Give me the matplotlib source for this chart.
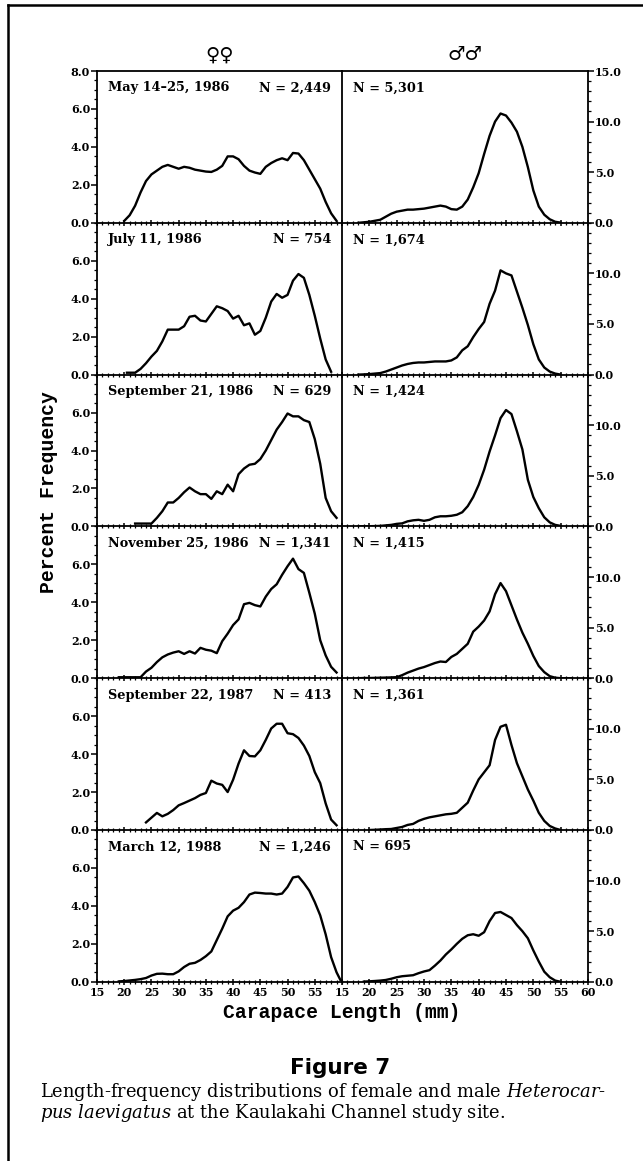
#length-frequency panels, females left and males right, six sampling dates

import matplotlib
matplotlib.use("Agg")
import matplotlib.pyplot as plt
from matplotlib.ticker import MultipleLocator, FixedLocator, FormatStrFormatter
from matplotlib.lines import Line2D

plt.rcParams['font.family'] = 'DejaVu Serif'
plt.rcParams['font.weight'] = 'bold'
plt.rcParams['mathtext.fontset'] = 'custom'
plt.rcParams['mathtext.rm'] = 'DejaVu Serif:normal'
plt.rcParams['mathtext.it'] = 'DejaVu Serif:italic:normal'

#sampling dates and sample sizes
dates = ["May 14\u201325, 1986", "July 11, 1986", "September 21, 1986",
         "November 25, 1986", "September 22, 1987", "March 12, 1988"]
n_female = ["2,449", "754", "629", "1,341", "413", "1,246"]
n_male = ["5,301", "1,674", "1,424", "1,415", "1,361", "695"]

#female curves (carapace length mm, percent frequency)
f1_mm = [20,21,22,23,24,25,26,27,28,29,30,31,32,33,34,35,36,37,38,39,40,41,42,43,44,45,46,47,48,49,50,51,52,53,54,55,56,57,58,59]
f1_pct = [0.1,0.4,0.9,1.6,2.2,2.55,2.75,2.95,3.05,2.95,2.85,2.95,2.9,2.8,2.75,2.7,2.68,2.8,3.0,3.5,3.5,3.35,3.0,2.75,2.65,2.58,2.95,3.15,3.3,3.4,3.3,3.68,3.65,3.3,2.8,2.3,1.8,1.1,0.5,0.1]
f2_mm = [20.5,21,22,23,24,25,26,27,28,29,30,31,32,33,34,35,36,37,38,39,40,41,42,43,44,45,46,47,48,49,50,51,52,53,54,55,56,57,58]
f2_pct = [0.1,0.1,0.1,0.3,0.6,0.95,1.25,1.75,2.37,2.37,2.37,2.55,3.05,3.1,2.85,2.8,3.2,3.6,3.5,3.35,2.95,3.1,2.6,2.7,2.1,2.3,3.0,3.85,4.25,4.05,4.2,4.95,5.3,5.1,4.2,3.1,1.9,0.8,0.15]
f3_mm = [22,23,24,25,26,27,28,29,30,31,32,33,34,35,36,37,38,39,40,41,42,43,44,45,46,47,48,49,50,51,52,53,54,55,56,57,58,59]
f3_pct = [0.15,0.15,0.15,0.15,0.45,0.8,1.26,1.26,1.5,1.8,2.05,1.85,1.7,1.7,1.45,1.85,1.7,2.2,1.85,2.75,3.05,3.25,3.3,3.55,4.0,4.55,5.1,5.5,5.95,5.8,5.8,5.6,5.5,4.6,3.3,1.5,0.8,0.45]
f4_mm = [19,20,21,22,23,24,25,26,27,28,29,30,31,32,33,34,35,36,37,38,39,40,41,42,43,44,45,46,47,48,49,50,51,52,53,54,55,56,57,58,59]
f4_pct = [0.05,0.05,0.05,0.05,0.05,0.35,0.55,0.85,1.1,1.25,1.35,1.42,1.28,1.42,1.3,1.6,1.5,1.45,1.32,1.95,2.35,2.8,3.1,3.9,3.97,3.85,3.78,4.3,4.7,4.95,5.45,5.9,6.3,5.75,5.55,4.5,3.4,2.0,1.2,0.6,0.3]
f5_mm = [24,25,26,27,28,29,30,31,32,33,34,35,36,37,38,39,40,41,42,43,44,45,46,47,48,49,50,51,52,53,54,55,56,57,58,59]
f5_pct = [0.4,0.65,0.9,0.72,0.85,1.05,1.3,1.42,1.55,1.68,1.85,1.95,2.6,2.45,2.38,2.0,2.65,3.5,4.2,3.9,3.88,4.2,4.75,5.35,5.6,5.6,5.1,5.05,4.85,4.45,3.9,3.05,2.47,1.4,0.55,0.25]
f6_mm = [19,20,21,22,23,24,25,26,27,28,29,30,31,32,33,34,35,36,37,38,39,40,41,42,43,44,45,46,47,48,49,50,51,52,53,54,55,56,57,58,59,59.7]
f6_pct = [0.02,0.04,0.07,0.1,0.14,0.2,0.33,0.42,0.43,0.4,0.4,0.55,0.78,0.95,1.0,1.15,1.35,1.6,2.2,2.8,3.45,3.75,3.9,4.2,4.6,4.7,4.68,4.65,4.65,4.6,4.65,5.0,5.5,5.55,5.2,4.8,4.2,3.5,2.5,1.3,0.5,0.1]

#male curves
m1_mm = [18,19,20,21,22,23,24,25,26,27,28,29,30,31,32,33,34,35,36,37,38,39,40,41,42,43,44,45,46,47,48,49,50,51,52,53,54,55]
m1_pct = [0,0.05,0.1,0.2,0.3,0.6,0.9,1.1,1.2,1.3,1.3,1.35,1.4,1.5,1.6,1.7,1.6,1.35,1.3,1.6,2.3,3.5,4.9,6.8,8.6,10.0,10.8,10.6,9.9,9.0,7.5,5.5,3.2,1.6,0.8,0.35,0.1,0.02]
m2_mm = [18,19,20,21,22,23,24,25,26,27,28,29,30,31,32,33,34,35,36,37,38,39,40,41,42,43,44,45,46,47,48,49,50,51,52,53,54,55]
m2_pct = [0,0.02,0.05,0.1,0.15,0.3,0.5,0.7,0.9,1.05,1.15,1.2,1.2,1.25,1.3,1.3,1.3,1.4,1.7,2.4,2.8,3.7,4.5,5.2,7.0,8.3,10.3,10.0,9.8,8.2,6.6,4.9,3.0,1.5,0.7,0.3,0.1,0.0]
m3_mm = [18,19,20,21,22,23,24,25,26,27,28,29,30,31,32,33,34,35,36,37,38,39,40,41,42,43,44,45,46,47,48,49,50,51,52,53,54,55]
m3_pct = [0,0.02,0.02,0.03,0.05,0.1,0.15,0.25,0.3,0.5,0.6,0.65,0.55,0.65,0.9,1.0,1.0,1.05,1.15,1.4,2.0,2.9,4.1,5.6,7.4,9.0,10.7,11.5,11.1,9.4,7.6,4.6,2.9,1.8,0.9,0.4,0.15,0.05]
m4_mm = [18,19,20,21,22,23,24,25,26,27,28,29,30,31,32,33,34,35,36,37,38,39,40,41,42,43,44,45,46,47,48,49,50,51,52,53,54,55,56,57]
m4_pct = [0,0.02,0.02,0.03,0.05,0.06,0.08,0.1,0.3,0.55,0.75,0.95,1.1,1.3,1.5,1.65,1.6,2.1,2.4,2.9,3.4,4.6,5.1,5.7,6.6,8.3,9.4,8.6,7.2,5.8,4.5,3.4,2.2,1.2,0.6,0.2,0.05,0,0,0]
m5_mm = [20,21,22,23,24,25,26,27,28,29,30,31,32,33,34,35,36,37,38,39,40,41,42,43,44,45,46,47,48,49,50,51,52,53,54,55]
m5_pct = [0,0.02,0.05,0.08,0.1,0.2,0.3,0.5,0.6,0.9,1.1,1.25,1.35,1.45,1.55,1.6,1.7,2.2,2.7,3.9,5.0,5.7,6.4,8.9,10.2,10.4,8.4,6.6,5.3,4.0,2.9,1.7,0.9,0.4,0.15,0.0]
m6_mm = [19,20,21,22,23,24,25,26,27,28,29,30,31,32,33,34,35,36,37,38,39,40,41,42,43,44,45,46,47,48,49,50,51,52,53,54,55]
m6_pct = [0.02,0.05,0.08,0.12,0.18,0.3,0.45,0.55,0.6,0.65,0.85,1.02,1.15,1.6,2.1,2.7,3.2,3.75,4.25,4.6,4.7,4.55,4.9,6.0,6.8,6.9,6.6,6.3,5.6,5.0,4.3,3.1,2.0,1.0,0.45,0.12,0.0]

female = [(f1_mm, f1_pct), (f2_mm, f2_pct), (f3_mm, f3_pct), (f4_mm, f4_pct), (f5_mm, f5_pct), (f6_mm, f6_pct)]
male = [(m1_mm, m1_pct), (m2_mm, m2_pct), (m3_mm, m3_pct), (m4_mm, m4_pct), (m5_mm, m5_pct), (m6_mm, m6_pct)]

W, H = 643.0, 1161.0
fig = plt.figure(figsize=(W/100, H/100), dpi=100)

x0, xm, x1 = 97, 342, 588   #left axis, divider, right axis (px)
top = 71
ph = 151.8

for i in range(6):
    ytop = top + i*ph
    b = 1 - (ytop + ph)/H
    axf = fig.add_axes([x0/W, b, (xm - x0)/W, ph/H])
    axm = fig.add_axes([xm/W, b, (x1 - xm)/W, ph/H])

    for ax in (axf, axm):
        ax.set_xlim(15, 60)
        ax.patch.set_alpha(0)
        for s in ax.spines.values():
            s.set_linewidth(1.3)
        if i > 0:
            ax.spines['top'].set_visible(False)
        ax.xaxis.set_major_locator(MultipleLocator(5))
        ax.xaxis.set_minor_locator(MultipleLocator(1))
        ax.tick_params(axis='x', which='major', direction='inout', length=5, width=1.1, pad=1, labelsize=8)
        ax.tick_params(axis='x', which='minor', direction='inout', length=3, width=0.9)
        ax.tick_params(axis='x', top=False, labelbottom=(i == 5))
    axm.spines['left'].set_visible(False)

    #female y axis
    axf.set_ylim(0, 8)
    yt = [0, 2, 4, 6, 8] if i == 0 else [0, 2, 4, 6]
    axf.yaxis.set_major_locator(FixedLocator(yt))
    axf.yaxis.set_minor_locator(MultipleLocator(0.5))
    axf.yaxis.set_major_formatter(FormatStrFormatter('%.1f'))
    axf.tick_params(axis='y', which='major', direction='out', length=4, width=1.1, pad=1, labelsize=8, right=False)
    axf.tick_params(axis='y', which='minor', direction='out', length=2, width=0.9, right=False)

    #male y axis
    axm.set_ylim(0, 15)
    axm.yaxis.tick_right()
    yt = [0, 5, 10, 15] if i == 0 else [0, 5, 10]
    axm.yaxis.set_major_locator(FixedLocator(yt))
    axm.yaxis.set_minor_locator(MultipleLocator(1))
    axm.yaxis.set_major_formatter(FormatStrFormatter('%.1f'))
    axm.tick_params(axis='y', which='major', direction='out', length=4, width=1.1, pad=1, labelsize=8, left=False)
    axm.tick_params(axis='y', which='minor', direction='out', length=2, width=0.9, left=False)

    if i == 5:
        axf.set_xticks([15, 20, 25, 30, 35, 40, 45, 50, 55])
        axf.xaxis.set_minor_locator(MultipleLocator(1))
        axf.set_xticklabels(['15', '20', '25', '30', '35', '40', '45', '50', '55'])

    xs, ys = female[i]
    axf.plot(xs, ys, color='black', lw=1.7, solid_joinstyle='round')
    xs, ys = male[i]
    axm.plot(xs, ys, color='black', lw=1.7, solid_joinstyle='round')

    ty = 1 - (ytop + 17)/H
    fig.text(108/W, ty, dates[i], ha='left', va='center', fontsize=9.3)
    fig.text(331/W, ty, "N = " + n_female[i], ha='right', va='center', fontsize=9.3)
    fig.text(353/W, ty, "N = " + n_male[i], ha='left', va='center', fontsize=9.3)

#sex symbols over the columns
fig.text((x0 + xm)/2/W, 1 - 55/H, "\u2640\u2640", ha='center', va='center', fontsize=14, family=['DejaVu Sans'], weight='bold')
fig.text((xm + x1)/2/W, 1 - 55/H, "\u2642\u2642", ha='center', va='center', fontsize=14, family=['DejaVu Sans'], weight='bold')

fig.text(48/W, 1 - 492/H, "Percent Frequency", rotation=90, ha='center', va='center',
         fontsize=14.2, family=['Liberation Mono'], weight='bold')
fig.text(xm/W, 1 - 1012/H, "Carapace Length (mm)", ha='center', va='center',
         fontsize=14.2, family=['Liberation Mono'], weight='bold')

fig.text(340/W, 1 - 1068/H, "Figure 7", ha='center', va='center', fontsize=15.5,
         family=['DejaVu Sans'], weight='bold')
fig.text(40/W, 1 - 1092/H, "Length-frequency distributions of female and male $\\it{Heterocar}$-",
         ha='left', va='center', fontsize=12.9, weight='normal')
fig.text(40/W, 1 - 1113/H, "$\\it{pus\\ laevigatus}$ at the Kaulakahi Channel study site.",
         ha='left', va='center', fontsize=12.9, weight='normal')

#frame lines of the page
fig.add_artist(Line2D([8/W, 1], [1 - 5/H, 1 - 5/H], color='black', lw=1.8))
fig.add_artist(Line2D([8/W, 8/W], [0, 1 - 5/H], color='black', lw=1.8))

plt.savefig('out.png', dpi=100)
